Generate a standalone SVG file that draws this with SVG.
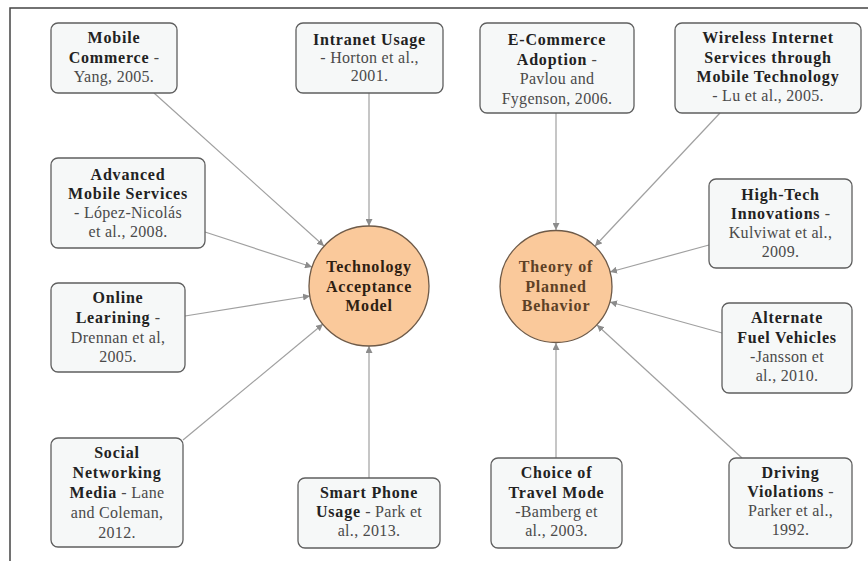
<svg xmlns="http://www.w3.org/2000/svg" width="868" height="561" viewBox="0 0 868 561">
  <style>
    .box { fill: #f6f8f8; stroke: #5f5f5f; stroke-width: 1.3; }
    .hub { fill: #fac99b; stroke: #6e5a48; stroke-width: 1.3; }
    text { font-family: "Liberation Serif", "Times New Roman", serif; font-size: 16px; text-anchor: middle; }
    .b { font-weight: bold; fill: #222; letter-spacing: 0.8px; }
    .r { font-weight: normal; fill: #4a4a4a; letter-spacing: 0.3px; }
    .hubtxt { font-weight: bold; letter-spacing: 0.8px; }
    .edge { stroke: #a0a0a0; stroke-width: 1.2; fill: none; marker-end: url(#arrow); }
    .frame { stroke: #444; stroke-width: 1.5; fill: none; }
  </style>
  <defs>
    <marker id="arrow" viewBox="0 0 10 10" refX="10" refY="5" markerWidth="7" markerHeight="7" markerUnits="userSpaceOnUse" orient="auto">
      <path d="M0,0 L10,5 L0,10 z" fill="#8c8c8c"/>
    </marker>
  </defs>

  <rect width="868" height="561" fill="#ffffff"/>
  <path class="frame" d="M10,561 L10,8 L868,8"/>

  <g id="connectors">
    <line class="edge" x1="154" y1="93" x2="324" y2="246"/>
    <line class="edge" x1="205" y1="232" x2="312" y2="267"/>
    <line class="edge" x1="185" y1="316" x2="310" y2="296"/>
    <line class="edge" x1="183" y1="440" x2="323" y2="324"/>
    <line class="edge" x1="369" y1="93" x2="369" y2="226"/>
    <line class="edge" x1="369" y1="478" x2="369" y2="346"/>
    <line class="edge" x1="556" y1="113" x2="556" y2="230"/>
    <line class="edge" x1="720" y1="113" x2="595" y2="246"/>
    <line class="edge" x1="709" y1="245" x2="610" y2="272"/>
    <line class="edge" x1="722" y1="333" x2="610" y2="302"/>
    <line class="edge" x1="742" y1="458" x2="597" y2="325"/>
    <line class="edge" x1="556" y1="458" x2="556" y2="343"/>
  </g>

  <g id="tam">
    <circle class="hub" cx="369" cy="286" r="60"/>
    <text class="hubtxt" fill="#2e2012"><tspan x="369" y="272">Technology</tspan><tspan x="369" y="292">Acceptance</tspan><tspan x="369" y="311">Model</tspan></text>
  </g>

  <g id="tpb">
    <circle class="hub" cx="556" cy="286.5" r="56"/>
    <text class="hubtxt" fill="#5e4126"><tspan x="556" y="272">Theory of</tspan><tspan x="556" y="292">Planned</tspan><tspan x="556" y="311">Behavior</tspan></text>
  </g>

  <g id="mobile-commerce">
    <rect class="box" x="51" y="23" width="126" height="70" rx="7"/>
    <text x="114" y="43" class="b">Mobile</text>
    <text x="114" y="63"><tspan class="b">Commerce</tspan><tspan class="r"> -</tspan></text>
    <text x="114" y="82" class="r">Yang, 2005.</text>
  </g>

  <g id="advanced-mobile">
    <rect class="box" x="51" y="158" width="154" height="90" rx="7"/>
    <text x="128" y="180" class="b">Advanced</text>
    <text x="128" y="199" class="b">Mobile Services</text>
    <text x="128" y="218" class="r">- López-Nicolás</text>
    <text x="128" y="237" class="r">et al., 2008.</text>
  </g>

  <g id="online-learning">
    <rect class="box" x="51" y="283" width="134" height="89" rx="7"/>
    <text x="118" y="303" class="b">Online</text>
    <text x="118" y="323"><tspan class="b">Learining</tspan><tspan class="r"> -</tspan></text>
    <text x="118" y="343" class="r">Drennan et al,</text>
    <text x="118" y="362" class="r">2005.</text>
  </g>

  <g id="social-networking">
    <rect class="box" x="51" y="438" width="132" height="109" rx="7"/>
    <text x="117" y="458" class="b">Social</text>
    <text x="117" y="478" class="b">Networking</text>
    <text x="117" y="498"><tspan class="b">Media</tspan><tspan class="r"> - Lane</tspan></text>
    <text x="117" y="518" class="r">and Coleman,</text>
    <text x="117" y="538" class="r">2012.</text>
  </g>

  <g id="intranet">
    <rect class="box" x="296" y="23" width="147" height="70" rx="7"/>
    <text x="369.5" y="45" class="b">Intranet Usage</text>
    <text x="369.5" y="63" class="r">- Horton et al.,</text>
    <text x="369.5" y="81" class="r">2001.</text>
  </g>

  <g id="smart-phone">
    <rect class="box" x="298" y="478" width="142" height="70" rx="7"/>
    <text x="369" y="498" class="b">Smart Phone</text>
    <text x="369" y="517"><tspan class="b">Usage</tspan><tspan class="r"> - Park et</tspan></text>
    <text x="369" y="536" class="r">al., 2013.</text>
  </g>

  <g id="e-commerce">
    <rect class="box" x="480" y="23" width="154" height="90" rx="7"/>
    <text x="557" y="45" class="b">E-Commerce</text>
    <text x="557" y="65"><tspan class="b">Adoption</tspan><tspan class="r"> -</tspan></text>
    <text x="557" y="84" class="r">Pavlou and</text>
    <text x="557" y="104" class="r">Fygenson, 2006.</text>
  </g>

  <g id="wireless-internet">
    <rect class="box" x="675" y="23" width="186" height="90" rx="7"/>
    <text x="768" y="43" class="b">Wireless Internet</text>
    <text x="768" y="63" class="b">Services through</text>
    <text x="768" y="82" class="b">Mobile Technology</text>
    <text x="768" y="101" class="r">- Lu et al., 2005.</text>
  </g>

  <g id="high-tech">
    <rect class="box" x="709" y="179" width="143" height="89" rx="7"/>
    <text x="780.5" y="200" class="b">High-Tech</text>
    <text x="780.5" y="219"><tspan class="b">Innovations</tspan><tspan class="r"> -</tspan></text>
    <text x="780.5" y="238" class="r">Kulviwat et al.,</text>
    <text x="780.5" y="257" class="r">2009.</text>
  </g>

  <g id="alternate-fuel">
    <rect class="box" x="722" y="303" width="130" height="90" rx="7"/>
    <text x="787" y="323" class="b">Alternate</text>
    <text x="787" y="343" class="b">Fuel Vehicles</text>
    <text x="787" y="362" class="r">-Jansson et</text>
    <text x="787" y="381" class="r">al., 2010.</text>
  </g>

  <g id="driving-violations">
    <rect class="box" x="729" y="458" width="123" height="90" rx="7"/>
    <text x="790.5" y="478" class="b">Driving</text>
    <text x="790.5" y="497"><tspan class="b">Violations</tspan><tspan class="r"> -</tspan></text>
    <text x="790.5" y="516" class="r">Parker et al.,</text>
    <text x="790.5" y="535" class="r">1992.</text>
  </g>

  <g id="travel-mode">
    <rect class="box" x="491" y="458" width="131" height="90" rx="7"/>
    <text x="556.5" y="478" class="b">Choice of</text>
    <text x="556.5" y="498" class="b">Travel Mode</text>
    <text x="556.5" y="517" class="r">-Bamberg et</text>
    <text x="556.5" y="536" class="r">al., 2003.</text>
  </g>
</svg>
